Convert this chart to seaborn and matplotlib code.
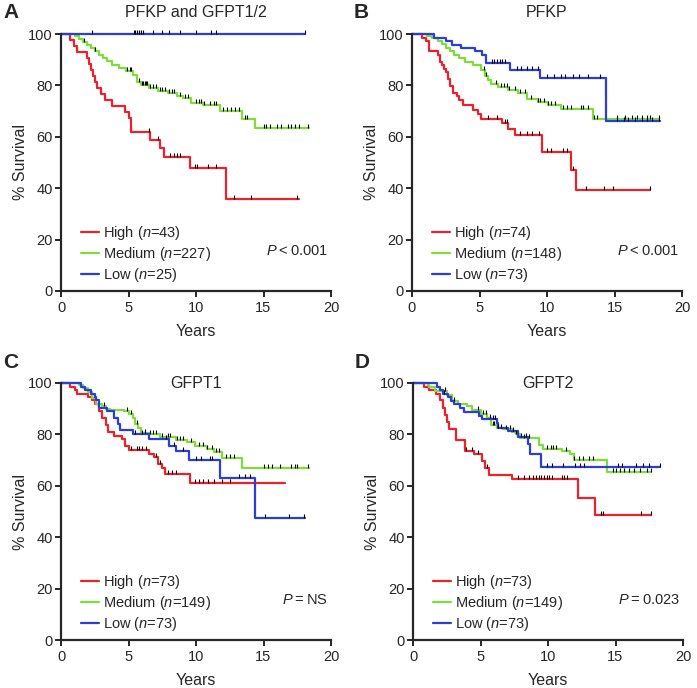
import numpy as np
import pandas as pd
import matplotlib
matplotlib.use("Agg")
import matplotlib.pyplot as plt
from matplotlib.lines import Line2D
from matplotlib.path import Path
import seaborn as sns

# ---- data (time in years, % survival after each step) ----
groups = ["High", "Medium", "Low"]
colors = {"High": "#e8232b", "Medium": "#7fdc3a", "Low": "#2b3fd6"}

# Panel A: PFKP and GFPT1/2
a_high_t = [0, 0.7, 0.95, 1.2, 1.95, 2.1, 2.2, 2.35, 2.55, 2.7, 2.95, 3.25, 3.75, 4.75, 5.0, 5.2, 6.6, 7.3, 7.65, 9.55, 12.2]
a_high_s = [100, 97.7, 95.3, 93.0, 90.7, 88.4, 86.0, 83.7, 81.4, 79.1, 76.7, 74.4, 72.1, 69.8, 67.4, 62.0, 58.8, 55.8, 52.3, 47.8, 35.7]
a_high_end = 17.6
a_high_cens = [6.5, 7.2, 8.1, 8.35, 8.6, 8.8, 9.9, 10.1, 10.9, 11.5, 12.8, 14.1, 17.5]

a_med_t = [0, 1.0, 1.3, 1.6, 1.9, 2.2, 2.5, 2.8, 3.1, 3.4, 3.8, 4.3, 4.8, 5.3, 5.6, 5.9, 6.5, 7.2, 7.9, 8.6, 9.0, 9.6, 10.5, 11.8, 13.4, 14.4]
a_med_s = [100, 99.1, 98.2, 97.0, 95.8, 94.6, 93.3, 92.0, 90.6, 89.4, 88.0, 86.9, 85.6, 84.0, 81.4, 80.0, 78.9, 77.8, 77.0, 76.0, 75.0, 73.0, 72.2, 70.1, 67.0, 63.4]
a_med_end = 18.4
a_med_cens = [1.7, 2.5, 4.9, 5.1, 5.2, 5.8, 6.0, 6.1, 6.2, 6.3, 6.4, 6.6, 6.8, 7.0, 7.3, 7.5, 7.7, 8.0, 8.2,
              8.4, 8.8, 9.2, 9.4, 10.0, 10.2, 10.4, 10.6, 11.0, 11.3, 11.5, 12.0, 12.3, 12.6, 12.9, 13.2,
              13.6, 13.8, 15.0, 15.2, 15.5, 16.0, 16.3, 16.8, 17.0, 17.3, 17.6, 18.3]

a_low_t = [0]
a_low_s = [100]
a_low_end = 18.1
a_low_cens = [2.3, 5.4, 5.5, 5.6, 5.8, 5.9, 6.1, 6.8, 7.5, 8.0, 8.8, 10.0, 11.1, 11.5, 18.1]

# Panel B: PFKP
b_high_t = [0, 0.75, 1.0, 1.25, 1.9, 2.05, 2.2, 2.35, 2.5, 2.7, 2.85, 3.05, 3.3, 3.5, 3.75, 4.5, 4.9, 5.1, 6.7, 7.1, 7.65, 9.6, 11.8, 12.15]
b_high_s = [100, 98.6, 97.3, 93.2, 91.9, 89.2, 87.8, 86.5, 85.1, 82.4, 79.7, 77.0, 75.7, 74.3, 72.3, 70.3, 68.8, 66.8, 65.2, 63.2, 60.6, 54.1, 47.0, 39.2]
b_high_end = 17.6
b_high_cens = [5.6, 6.3, 6.9, 7.0, 8.0, 8.5, 8.9, 9.4, 10.0, 10.3, 11.2, 11.5, 11.9, 12.9, 14.2, 14.9, 17.6]

b_med_t = [0, 1.1, 1.5, 1.9, 2.2, 2.5, 2.8, 3.1, 3.5, 3.9, 4.5, 5.1, 5.4, 5.6, 5.85, 6.35, 7.1, 7.85, 8.55, 9.3, 10.05, 11.05, 13.4]
b_med_s = [100, 99.3, 98.6, 97.3, 96.0, 94.6, 93.2, 91.8, 90.5, 89.2, 87.8, 85.9, 83.5, 82.0, 80.5, 79.4, 78.1, 77.1, 74.9, 73.6, 72.3, 71.0, 67.1]
b_med_end = 18.3
b_med_cens = [5.3, 5.5, 6.2, 6.6, 6.8, 7.0, 7.2, 7.6, 8.0, 8.4, 8.8, 9.3, 9.5, 9.8, 10.1, 10.3, 10.6, 11.2,
              11.5, 11.8, 12.5, 12.7, 13.0, 13.5, 13.7, 15.2, 15.8, 16.3, 16.7, 17.0, 17.4, 17.6, 18.3]

b_low_t = [0, 1.65, 2.5, 2.95, 3.6, 4.7, 5.15, 5.5, 7.25, 9.5, 14.4]
b_low_s = [100, 98.6, 97.3, 95.9, 94.5, 93.2, 91.8, 88.7, 86.1, 82.9, 66.3]
b_low_end = 18.4
b_low_cens = [5.9, 6.1, 6.3, 6.5, 6.7, 6.9, 7.8, 8.1, 8.5, 8.9, 9.3, 10.0, 10.5, 11.0, 11.3, 11.9, 12.4,
              13.0, 13.9, 15.2, 15.7, 16.0, 16.5, 17.0, 17.4, 17.8, 18.3]

# Panel C: GFPT1
c_high_t = [0, 0.7, 1.0, 1.2, 2.0, 2.3, 2.5, 2.8, 3.0, 3.3, 3.5, 3.9, 4.5, 4.75, 5.0, 6.5, 6.9, 7.2, 7.45, 7.7, 9.55]
c_high_s = [100, 98.6, 97.3, 95.9, 94.5, 93.2, 91.8, 89.0, 86.3, 83.6, 80.8, 79.4, 78.1, 75.3, 73.9, 72.5, 71.1, 68.3, 66.9, 64.5, 61.1]
c_high_end = 16.6
c_high_cens = [5.2, 5.6, 5.8, 6.0, 6.3, 7.0, 7.3, 7.9, 8.2, 8.5, 9.9, 10.2, 10.5, 10.9, 11.3, 11.9, 12.5]

c_med_t = [0, 1.3, 1.6, 2.0, 2.3, 2.6, 3.0, 3.3, 3.6, 4.7, 5.0, 5.3, 5.5, 5.7, 5.9, 6.5, 7.3, 8.5, 9.3, 9.9, 10.8, 11.3, 11.9, 13.4]
c_med_s = [100, 99.3, 98.0, 96.6, 94.0, 92.0, 91.0, 90.0, 89.3, 89.0, 88.0, 86.5, 84.0, 82.5, 80.5, 80.0, 79.0, 78.0, 77.0, 75.5, 74.5, 73.0, 71.0, 67.0]
c_med_end = 18.4
c_med_cens = [3.2, 4.9, 5.2, 5.6, 6.2, 6.6, 6.8, 7.0, 7.5, 7.9, 8.1, 8.6, 8.8, 9.0, 9.6, 10.2, 10.5, 10.8,
              11.2, 11.5, 11.7, 12.2, 12.5, 12.8, 15.0, 15.3, 15.6, 16.2, 17.0, 17.3, 17.5, 18.3]

c_low_t = [0, 1.5, 1.8, 2.2, 2.5, 2.6, 2.8, 3.4, 3.9, 4.2, 4.35, 5.35, 6.5, 8.0, 8.5, 9.5, 11.8, 14.4]
c_low_s = [100, 98.6, 97.3, 95.9, 94.5, 93.2, 90.4, 89.0, 86.3, 84.0, 81.6, 80.2, 78.4, 75.6, 73.5, 70.2, 63.2, 47.4]
c_low_end = 18.1
c_low_cens = [5.5, 6.0, 7.8, 8.4, 9.0, 10.0, 10.4, 11.0, 11.2, 13.2, 13.6, 14.0, 15.1, 16.9, 18.0]

# Panel D: GFPT2
d_high_t = [0, 0.8, 1.2, 1.7, 2.0, 2.2, 2.35, 2.5, 2.65, 3.2, 3.85, 4.5, 5.1, 5.3, 5.6, 7.3, 12.2, 13.45]
d_high_s = [100, 98.6, 97.3, 95.9, 93.2, 90.4, 87.7, 84.9, 82.2, 77.8, 73.6, 72.3, 69.5, 66.8, 64.1, 62.6, 55.4, 48.5]
d_high_end = 17.6
d_high_cens = [3.9, 4.4, 4.8, 5.5, 7.8, 8.2, 8.6, 8.9, 9.1, 9.3, 9.5, 9.7, 9.9, 10.1, 10.3, 11.0, 11.2,
               11.4, 13.9, 14.1, 16.9, 17.6]

d_med_t = [0, 1.1, 1.2, 1.6, 2.5, 2.9, 3.3, 4.0, 4.4, 5.0, 5.5, 5.8, 6.2, 6.7, 7.3, 7.6, 7.9, 9.3, 9.6, 11.0, 11.6, 11.9, 14.4]
d_med_s = [100, 99.3, 98.5, 96.8, 95.5, 93.0, 92.0, 91.0, 89.5, 88.0, 86.5, 83.5, 82.5, 82.0, 81.0, 80.0, 78.5, 76.0, 74.5, 73.5, 72.5, 70.0, 65.4]
d_med_end = 17.6
d_med_cens = [2.4, 3.0, 4.8, 5.2, 5.4, 5.7, 5.9, 6.0, 6.3, 6.5, 6.9, 7.2, 7.6, 8.2, 8.6, 9.9, 10.2, 10.4,
              10.6, 11.3, 11.9, 12.3, 12.6, 13.0, 13.3, 14.8, 15.0, 15.3, 15.6, 16.0, 16.4, 16.8, 17.3, 17.6]

d_low_t = [0, 1.8, 2.0, 2.2, 2.6, 2.8, 3.0, 3.5, 3.8, 4.9, 5.1, 6.2, 6.3, 7.0, 7.8, 8.5, 8.7, 9.5]
d_low_s = [100, 98.6, 97.3, 95.9, 94.5, 93.1, 91.8, 90.4, 88.7, 87.3, 85.9, 84.5, 82.5, 81.5, 78.8, 76.1, 72.2, 67.4]
d_low_end = 18.3
d_low_cens = [2.3, 5.9, 6.1, 7.4, 8.0, 8.4, 9.9, 10.3, 11.1, 12.0, 12.4, 12.7, 15.2, 15.5, 16.5, 17.0, 17.5, 18.3]

panels = [
    dict(letter="A", title="PFKP and GFPT1/2", title_inside=False, n=[43, 227, 25], p="$P$ < 0.001",
         curves=[(a_high_t, a_high_s, a_high_end, a_high_cens),
                 (a_med_t, a_med_s, a_med_end, a_med_cens),
                 (a_low_t, a_low_s, a_low_end, a_low_cens)]),
    dict(letter="B", title="PFKP", title_inside=False, n=[74, 148, 73], p="$P$ < 0.001",
         curves=[(b_high_t, b_high_s, b_high_end, b_high_cens),
                 (b_med_t, b_med_s, b_med_end, b_med_cens),
                 (b_low_t, b_low_s, b_low_end, b_low_cens)]),
    dict(letter="C", title="GFPT1", title_inside=True, n=[73, 149, 73], p="$P$ = NS",
         curves=[(c_high_t, c_high_s, c_high_end, c_high_cens),
                 (c_med_t, c_med_s, c_med_end, c_med_cens),
                 (c_low_t, c_low_s, c_low_end, c_low_cens)]),
    dict(letter="D", title="GFPT2", title_inside=True, n=[73, 149, 73], p="$P$ = 0.023",
         curves=[(d_high_t, d_high_s, d_high_end, d_high_cens),
                 (d_med_t, d_med_s, d_med_end, d_med_cens),
                 (d_low_t, d_low_s, d_low_end, d_low_cens)]),
]

sns.set_style("ticks")
plt.rcParams["font.family"] = ["Liberation Sans", "DejaVu Sans"]
plt.rcParams["mathtext.fontset"] = "custom"
plt.rcParams["mathtext.rm"] = "Liberation Sans"
plt.rcParams["mathtext.it"] = "Liberation Sans:italic"

# censor tick: short vertical stroke sitting on top of the curve
tick_up = Path([(0, 0), (0, 1)], [Path.MOVETO, Path.LINETO])

W, H = 697, 688
fig = plt.figure(figsize=(W / 100, H / 100), dpi=100)

# axes boxes in pixels: (x at 0 yr, x at 20 yr, y at 100 %, y at 0 %)
boxes = [(61, 331, 34, 291), (412, 682, 34, 291), (61, 331, 383, 640), (413, 683, 383, 640)]

for panel, (x0, x1, ytop, ybot) in zip(panels, boxes):
    ax = fig.add_axes([x0 / W, 1 - ybot / H, (x1 - x0) / W, (ybot - ytop) / H])

    rows, cens_rows = [], []
    for g, (t, s, end, cens) in zip(groups, panel["curves"]):
        for ti, si in zip(list(t) + [end], list(s) + [s[-1]]):
            rows.append((g, ti, si))
        t_arr, s_arr = np.array(t), np.array(s)
        for c in cens:
            idx = np.searchsorted(t_arr, c, side="right") - 1
            cens_rows.append((g, c, s_arr[idx]))
    df = pd.DataFrame(rows, columns=["group", "years", "survival"])
    dc = pd.DataFrame(cens_rows, columns=["group", "years", "survival"])

    sns.lineplot(data=df, x="years", y="survival", hue="group", hue_order=groups,
                 palette=colors, estimator=None, sort=False, drawstyle="steps-post",
                 linewidth=1.6, legend=False, ax=ax, clip_on=False)
    sns.scatterplot(data=dc, x="years", y="survival", marker=tick_up, color="black",
                    edgecolor="black", s=40, linewidth=0.8, ax=ax, zorder=3, clip_on=False)

    ax.set_xlim(0, 20)
    ax.set_ylim(0, 100)
    ax.set_xticks([0, 5, 10, 15, 20])
    ax.set_yticks([0, 20, 40, 60, 80, 100])
    ax.tick_params(labelsize=10.5, length=4, width=1.4, pad=2)
    ax.tick_params(axis="x", pad=3)
    for sp in ["left", "bottom"]:
        ax.spines[sp].set_linewidth(1.6)
    sns.despine(ax=ax)
    ax.set_xlabel("Years", fontsize=11.5, labelpad=7)
    ax.set_ylabel("% Survival", fontsize=11.5, labelpad=0)

    if panel["title_inside"]:
        ax.text(0.5, 1.0, panel["title"], transform=ax.transAxes, ha="center", va="center", fontsize=11.5)
    else:
        ax.text(0.5, 1.082, panel["title"], transform=ax.transAxes, ha="center", va="center", fontsize=11.5)

    handles = [Line2D([], [], color=colors[g], lw=1.6) for g in groups]
    labels = [f"{g} ($n$={n})" for g, n in zip(groups, panel["n"])]
    ax.legend(handles, labels, loc="lower left", bbox_to_anchor=(0.053, 0.006), frameon=False,
              fontsize=10.5, handlelength=1.25, handletextpad=0.25, labelspacing=0.2, borderaxespad=0)
    ax.text(19.8, 15.6, panel["p"].replace(" ", "\u2009"), ha="right", va="center", fontsize=10.5)

    fig.text((x0 - 58) / W, 1 - (ytop - 21) / H, panel["letter"], fontsize=15, fontweight="bold",
             ha="left", va="center")

fig.savefig("out.png", dpi=100)
